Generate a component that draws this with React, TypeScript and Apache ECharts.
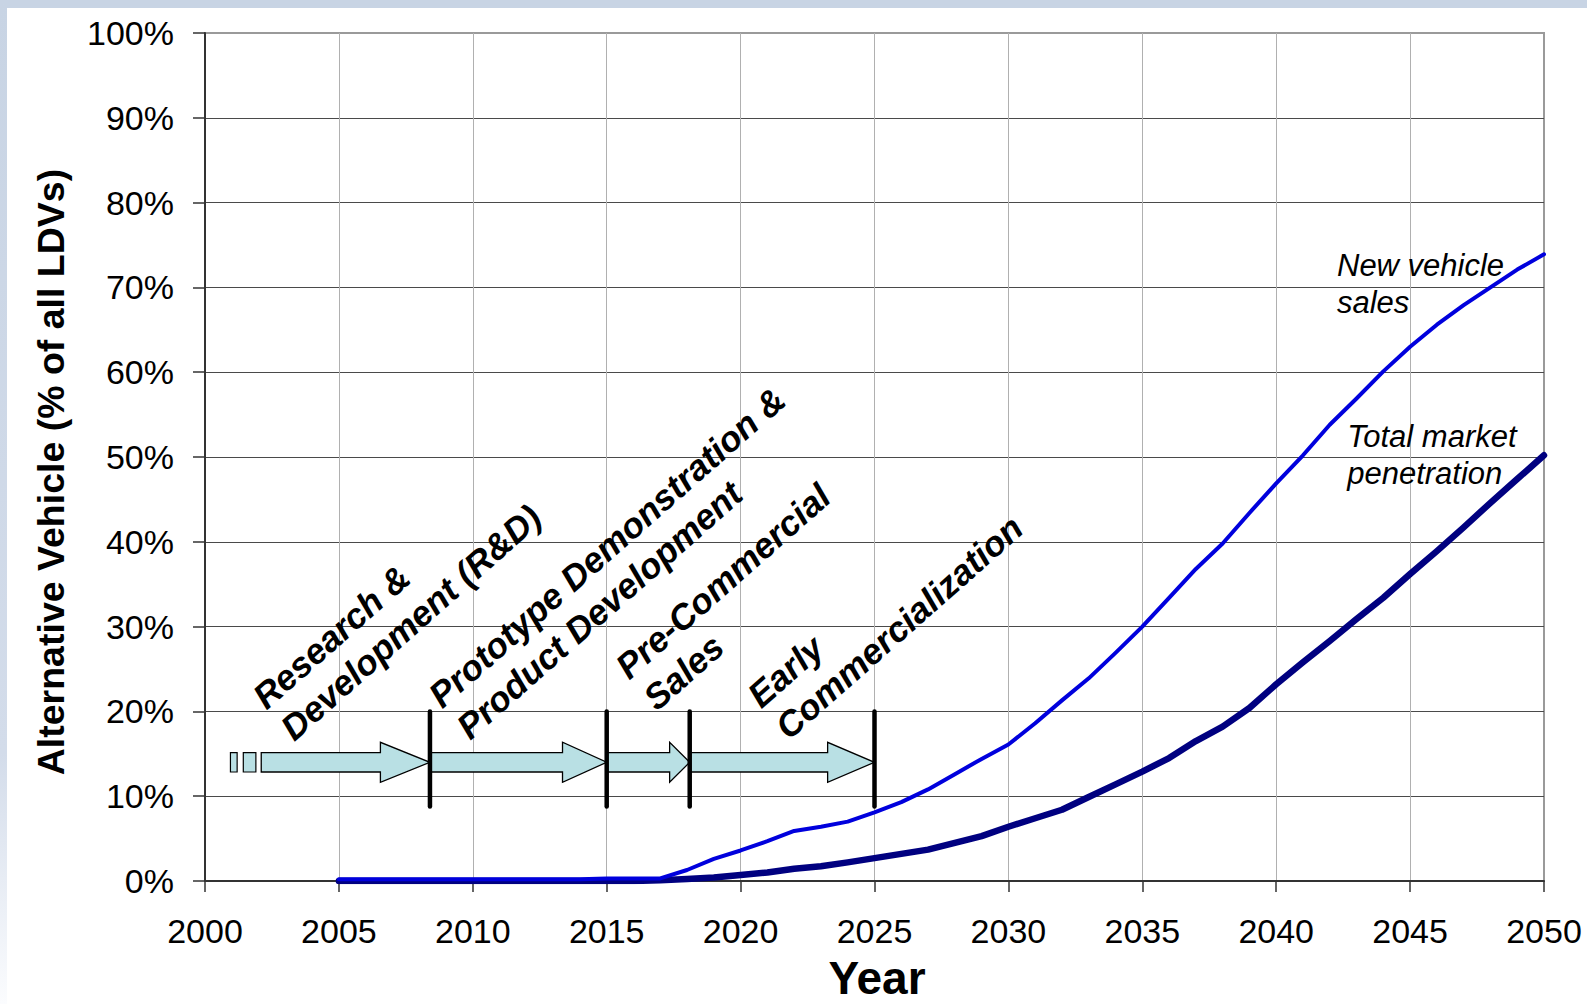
import React, { useEffect, useRef } from "react";
import * as echarts from "echarts";

// ---------------- data ----------------
const years = [
  2005, 2006, 2007, 2008, 2009, 2010, 2011, 2012, 2013, 2014,
  2015, 2016, 2017, 2018, 2019, 2020, 2021, 2022, 2023, 2024,
  2025, 2026, 2027, 2028, 2029, 2030, 2031, 2032, 2033, 2034,
  2035, 2036, 2037, 2038, 2039, 2040, 2041, 2042, 2043, 2044,
  2045, 2046, 2047, 2048, 2049, 2050,
];

const newVehicleSales = [
  0.2, 0.2, 0.2, 0.2, 0.2, 0.2, 0.2, 0.2, 0.2, 0.2,
  0.3, 0.3, 0.3, 1.3, 2.6, 3.6, 4.7, 5.9, 6.4, 7.0,
  8.1, 9.3, 10.8, 12.6, 14.4, 16.1, 18.6, 21.3, 23.9, 26.9,
  30.0, 33.4, 36.8, 39.8, 43.4, 46.9, 50.2, 53.8, 56.9, 60.1,
  63.0, 65.6, 67.9, 70.0, 72.1, 73.9,
];

const totalMarketPenetration = [
  0.0, 0.0, 0.0, 0.0, 0.0, 0.0, 0.0, 0.0, 0.0, 0.0,
  0.0, 0.0, 0.1, 0.25, 0.4, 0.7, 1.0, 1.45, 1.75, 2.2,
  2.7, 3.2, 3.7, 4.5, 5.3, 6.4, 7.4, 8.4, 9.9, 11.4,
  12.9, 14.5, 16.5, 18.2, 20.4, 23.2, 25.8, 28.3, 30.9, 33.4,
  36.2, 38.9, 41.7, 44.6, 47.4, 50.2,
];

// phase arrows: [start year, arrow-head start year, tip year]
const phaseArrows = [
  [2002.1, 2006.55, 2008.4],
  [2008.4, 2013.35, 2015.0],
  [2015.0, 2017.35, 2018.1],
  [2018.1, 2023.25, 2025.0],
];
const arrowLevel = 14.0; // % where arrows sit
const tailDashes = [
  [2000.95, 2001.2],
  [2001.43, 2001.9],
];
// phase boundary markers: year, [low %, high %]
const phaseBoundaries = [2008.4, 2015.0, 2018.1, 2025.0];
const boundaryRange = [8.8, 20.0];

const phaseLabels = [
  ["Research &", "Development (R&D)"],
  ["Prototype Demonstration &", "Product Development"],
  ["Pre-Commercial", "Sales"],
  ["Early", "Commercialization"],
];
const phaseLabelAnchors = [
  [2002.3, 20.05],
  [2008.87, 20.2],
  [2015.85, 23.6],
  [2020.78, 20.2],
];

const seriesLabels = [
  ["New vehicle", "sales"],
  ["Total market", "penetration"],
];
const seriesLabelAnchors = [
  [2042.27, 71.3],
  [2042.65, 51.1],
];

const yTicks = [0, 10, 20, 30, 40, 50, 60, 70, 80, 90, 100];

// ---------------- chart ----------------
const FONT = "'Liberation Sans', Arial, Helvetica, sans-serif";

export default function App() {
  const ref = useRef<HTMLDivElement>(null);

  useEffect(() => {
    if (!ref.current) return;
    const chart = echarts.init(ref.current, undefined, { renderer: "svg" });

    const hSplitColors = yTicks.map((t) => (t === 100 ? "#9a9a9a" : "#4a4a4a"));
    const vSplitColors = [
      "#b0b0b0", "#b0b0b0", "#b0b0b0", "#b0b0b0", "#b0b0b0", "#b0b0b0",
      "#b0b0b0", "#b0b0b0", "#b0b0b0", "#b0b0b0", "#9a9a9a",
    ];

    const option: any = {
      animation: false,
      backgroundColor: "#ffffff",
      grid: {
        left: 205,
        right: 43,
        top: 33,
        bottom: 123,
        show: true,
        borderColor: "#9a9a9a",
        borderWidth: 2,
        backgroundColor: "transparent",
      },
      xAxis: {
        type: "value",
        min: 2000,
        max: 2050,
        interval: 5,
        axisLine: { show: true, onZero: false, lineStyle: { color: "#333", width: 2 } },
        axisTick: { show: true, inside: false, length: 11, lineStyle: { color: "#333", width: 1.5 } },
        axisLabel: {
          show: true,
          margin: 33,
          fontSize: 34,
          color: "#000",
          fontFamily: FONT,
          formatter: (v: number) => String(v),
        },
        splitLine: { show: true, lineStyle: { color: vSplitColors, width: 1 } },
      },
      yAxis: {
        type: "value",
        min: 0,
        max: 100,
        interval: 10,
        axisLine: { show: true, lineStyle: { color: "#333", width: 2 } },
        axisTick: { show: true, inside: false, length: 12, lineStyle: { color: "#333", width: 1.5 } },
        axisLabel: {
          show: true,
          margin: 31,
          fontSize: 34,
          color: "#000",
          fontFamily: FONT,
          formatter: "{value}%",
        },
        splitLine: { show: true, lineStyle: { color: hSplitColors, width: 1 } },
      },
      graphic: [
        {
          type: "rect",
          shape: { x: 0, y: 0, width: 1587, height: 8 },
          style: { fill: "#c8d4e4" },
          silent: true,
        },
        {
          type: "rect",
          shape: { x: 0, y: 0, width: 7, height: 1004 },
          style: {
            fill: new echarts.graphic.LinearGradient(0, 0, 0, 1, [
              { offset: 0, color: "#c8d4e4" },
              { offset: 0.75, color: "#d3dcea" },
              { offset: 1, color: "#fbfcfe" },
            ]),
          },
          silent: true,
        },
        {
          type: "text",
          x: 51,
          y: 472,
          rotation: Math.PI / 2,
          style: {
            text: "Alternative Vehicle (% of all LDVs)",
            fill: "#000",
            font: `bold 37.5px ${FONT}`,
            textAlign: "center",
            textVerticalAlign: "middle",
            align: "center",
            verticalAlign: "middle",
          },
        },
        {
          type: "text",
          x: 877,
          y: 978,
          style: {
            text: "Year",
            fill: "#000",
            font: `bold 46px ${FONT}`,
            lineHeight: 36,
            textAlign: "center",
            textVerticalAlign: "middle",
            align: "center",
            verticalAlign: "middle",
          },
        },
      ],
      series: [
        {
          name: "Total market penetration",
          type: "line",
          data: years.map((y, i) => [y, totalMarketPenetration[i]]),
          showSymbol: false,
          symbol: "none",
          clip: true,
          lineStyle: { color: "#000080", width: 6.5, cap: "round", join: "round" },
          z: 3,
        },
        {
          name: "New vehicle sales",
          type: "line",
          data: years.map((y, i) => [y, newVehicleSales[i]]),
          showSymbol: false,
          symbol: "none",
          clip: true,
          lineStyle: { color: "#0000dd", width: 4, cap: "round", join: "round" },
          z: 4,
        },
        {
          name: "tail dashes",
          type: "custom",
          clip: false,
          silent: true,
          z: 5,
          data: tailDashes.map((d) => [d[0], d[1], arrowLevel]),
          renderItem: (params: any, api: any) => {
            const a = api.coord([api.value(0), api.value(2)]);
            const b = api.coord([api.value(1), api.value(2)]);
            const bh = 9.7;
            return {
              type: "rect",
              shape: { x: a[0], y: a[1] - bh, width: b[0] - a[0], height: bh * 2 },
              style: { fill: "#b9e0e4", stroke: "#000", lineWidth: 1.2 },
            };
          },
        },
        {
          name: "phase arrows",
          type: "custom",
          clip: false,
          silent: true,
          z: 5,
          data: phaseArrows.map((d) => [d[0], d[1], d[2], arrowLevel]),
          renderItem: (params: any, api: any) => {
            const p0 = api.coord([api.value(0), api.value(3)]);
            const ph = api.coord([api.value(1), api.value(3)]);
            const pt = api.coord([api.value(2), api.value(3)]);
            const c = p0[1];
            const bh = 9.7;
            const hh = 20;
            return {
              type: "polygon",
              shape: {
                points: [
                  [p0[0], c - bh],
                  [ph[0], c - bh],
                  [ph[0], c - hh],
                  [pt[0], c],
                  [ph[0], c + hh],
                  [ph[0], c + bh],
                  [p0[0], c + bh],
                ],
              },
              style: { fill: "#b9e0e4", stroke: "#000", lineWidth: 1.3, lineJoin: "miter" },
            };
          },
        },
        {
          name: "phase boundaries",
          type: "custom",
          clip: false,
          silent: true,
          z: 6,
          data: phaseBoundaries.map((x) => [x, boundaryRange[0], boundaryRange[1]]),
          renderItem: (params: any, api: any) => {
            const a = api.coord([api.value(0), api.value(1)]);
            const b = api.coord([api.value(0), api.value(2)]);
            return {
              type: "line",
              shape: { x1: a[0], y1: a[1], x2: b[0], y2: b[1] },
              style: { stroke: "#000", lineWidth: 4.5, lineCap: "round" },
            };
          },
        },
        {
          name: "phase labels",
          type: "custom",
          clip: false,
          silent: true,
          z: 7,
          data: phaseLabelAnchors.map((d, i) => [d[0], d[1], i]),
          renderItem: (params: any, api: any) => {
            const p = api.coord([api.value(0), api.value(1)]);
            const lines = phaseLabels[api.value(2)];
            const fs = 35.5;
            const lh = 42;
            const base = -0.3465 * fs;
            return {
              type: "group",
              x: p[0],
              y: p[1],
              rotation: (41.5 * Math.PI) / 180,
              children: lines.map((t: string, k: number) => ({
                type: "text",
                x: 0,
                y: base + k * lh,
                style: {
                  text: t,
                  fill: "#000",
                  font: `italic bold ${fs}px ${FONT}`,
                  textAlign: "left",
                  textVerticalAlign: "middle",
                  align: "left",
                  verticalAlign: "middle",
                },
              })),
            };
          },
        },
        {
          name: "series labels",
          type: "custom",
          clip: false,
          silent: true,
          z: 7,
          data: seriesLabelAnchors.map((d, i) => [d[0], d[1], i]),
          renderItem: (params: any, api: any) => {
            const p = api.coord([api.value(0), api.value(1)]);
            const lines = seriesLabels[api.value(2)];
            const fs = 31;
            const lh = 37;
            const base = -0.3465 * fs;
            return {
              type: "group",
              x: p[0],
              y: p[1],
              children: lines.map((t: string, k: number) => ({
                type: "text",
                x: 0,
                y: base + k * lh,
                style: {
                  text: t,
                  fill: "#000",
                  font: `italic ${fs}px ${FONT}`,
                  textAlign: "left",
                  textVerticalAlign: "middle",
                  align: "left",
                  verticalAlign: "middle",
                },
              })),
            };
          },
        },
      ],
    };

    chart.setOption(option);
    return () => {
      chart.dispose();
    };
  }, []);

  return (
    <div
      ref={ref}
      style={{ position: "fixed", left: 0, top: 0, width: 1587, height: 1004, background: "#fff" }}
    />
  );
}
